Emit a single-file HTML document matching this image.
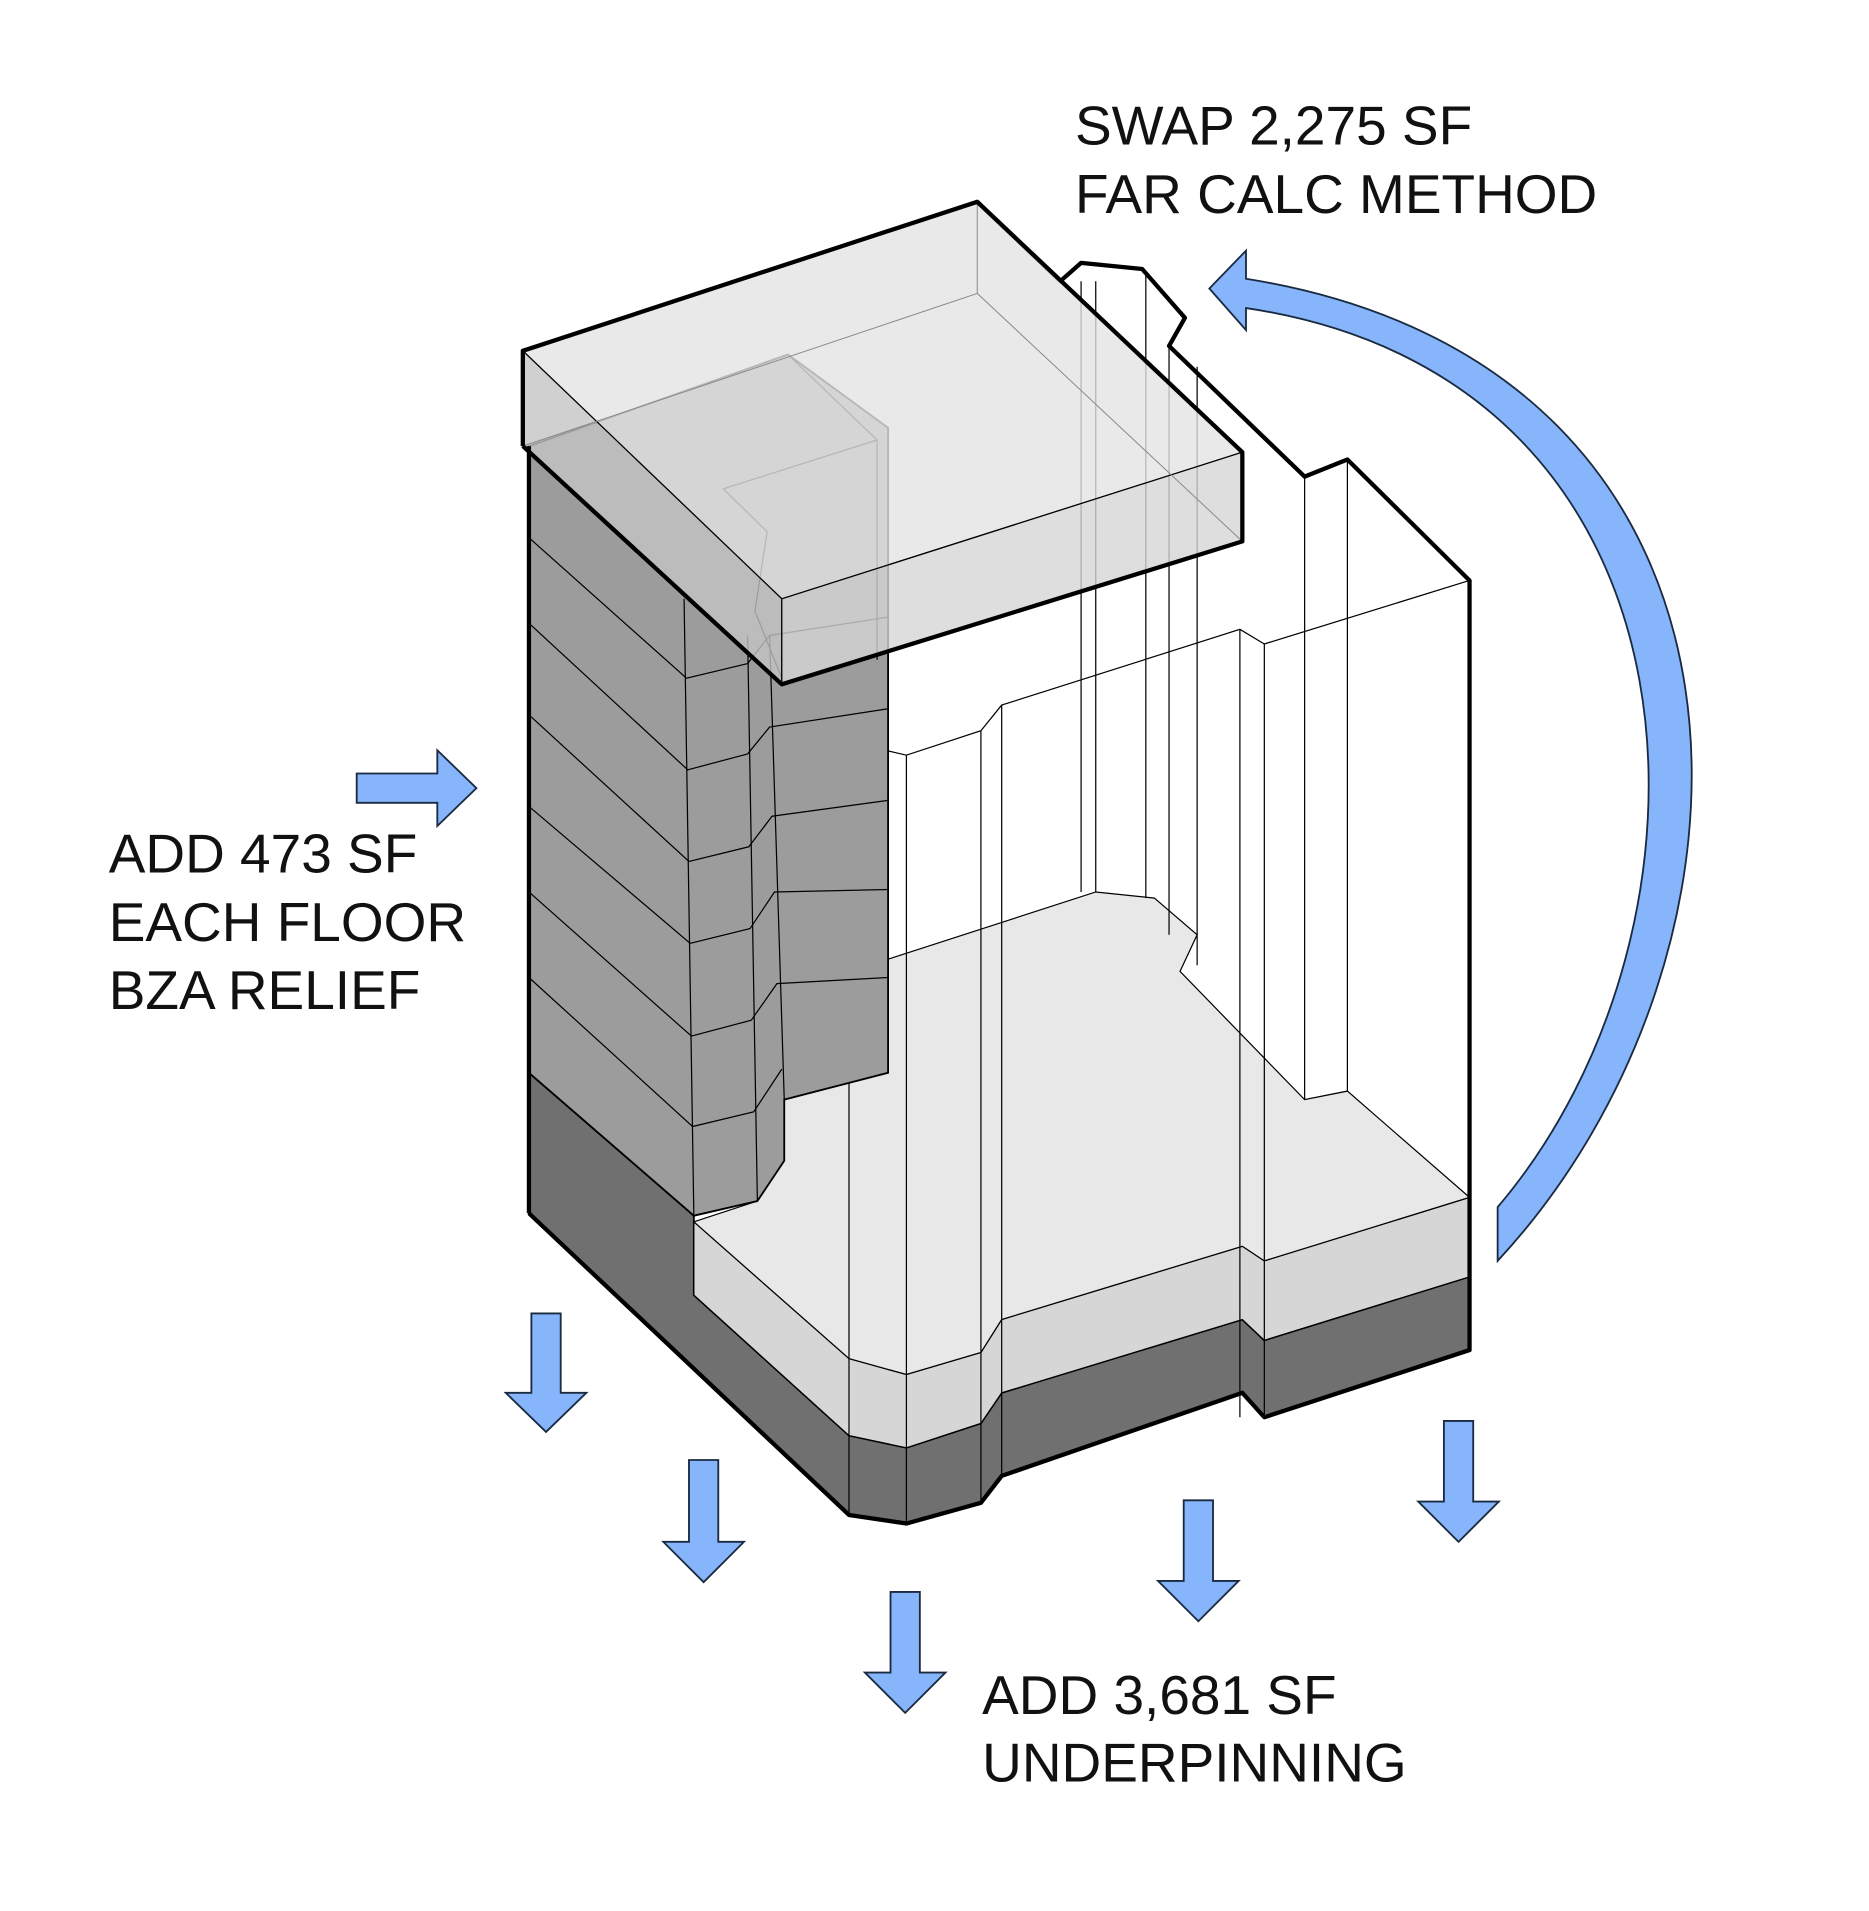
<!DOCTYPE html>
<html><head><meta charset="utf-8"><style>
html,body{margin:0;padding:0;background:#fff}
svg{display:block}
text{font-family:"Liberation Sans",Arial,sans-serif;font-size:45px;fill:#111}
</style></head><body>
<svg width="1869" height="1911" viewBox="0 0 1530 1564" xmlns="http://www.w3.org/2000/svg">
<rect width="1530" height="1564" fill="#fff"/>
<path d="M800,165 L868,230 L885,215 L935,220 L970,260 L957,283 L1068,390 L1103,376 L1203,475 L1203,1105 L1035,1160 L1017,1140 L820,1208 L803,1230 L742,1247 L695,1240 L433,993 L433,287 Z" fill="#fff" stroke="none"/>
<path d="M433,878 L568,995 L568,1060 L695,1175 L742,1185 L803,1165 L820,1140 L1017,1080 L1035,1097 L1203,1045 L1203,1105 L1035,1160 L1017,1140 L820,1208 L803,1230 L742,1247 L695,1240 L433,993 Z" fill="#707070" stroke="#000" stroke-width="1.5"/>
<path d="M568,1000 L695,1112 L742,1125 L803,1107 L820,1080 L1017,1020 L1035,1032 L1203,980 L1203,1045 L1035,1097 L1017,1080 L820,1140 L803,1165 L742,1185 L695,1175 L568,1060 Z" fill="#d6d6d6" stroke="#000" stroke-width="1"/>
<path d="M568,1000 L620,983 L642,950 L642,900 L727,878 L727,785 L897,730 L945,735 L980,765 L966,795 L1068,900 L1103,893 L1203,980 L1035,1032 L1017,1020 L820,1080 L803,1107 L742,1125 L695,1112 Z" fill="#e8e8e8" stroke="#000" stroke-width="1"/>
<g stroke="#000" stroke-width="1" fill="none">
<path d="M695,607 L742,618 L803,598 L820,577 L1015,515 L1035,527 L1203,475"/>
<path d="M695,607 V1240 M742,618 V1247 M803,598 V1230 M820,577 V1208 M1015,515 V1160 M1035,527 V1160"/>
<path d="M885,230 V730 M897,230 V730 M938,225 V735 M957,283 V765 M980,300 V790 M1068,390 V900 M1103,376 V893"/>
</g>
<path d="M800,165 L868,230 L885,215 L935,220 L970,260 L957,283 L1068,390 L1103,376 L1203,475 L1203,1105 L1035,1160 L1017,1140 L820,1208 L803,1230 L742,1247 L695,1240 L433,993" fill="none" stroke="#000" stroke-width="3.5" stroke-linejoin="round"/>
<path d="M433,365 L433,878 L568,995 L620,983 L642,950 L642,900 L727,878 L727,350 L645,290 Z" fill="#9c9c9c" stroke="#000" stroke-width="1.5"/>
<g stroke="#000" stroke-width="1" fill="none">
<path d="M433,440 L562,555 L612,543 L630,520 L727,505"/>
<path d="M433,510 L563,630 L612,617 L630,595 L727,580"/>
<path d="M433,585 L564,705 L613,693 L632,668 L727,655"/>
<path d="M433,660 L565,772 L614,760 L634,730 L727,728"/>
<path d="M433,730 L566,848 L615,835 L636,805 L727,800"/>
<path d="M433,800 L567,922 L617,910 L640,875"/>
<path d="M560,490 L568,995 M612,520 L620,983 M630,520 L642,900"/>
<path d="M645,290 L718,360 L718,540 M592,400 L718,360 M592,400 L628,435 L618,500 L640,555"/>
</g>
<path d="M428,287 L800,165 L1017,370 L640,490 Z" fill="#e4e4e4" fill-opacity="0.8" stroke="#000" stroke-width="1"/>
<path d="M428,287 L640,490 L640,560 L428,365 Z" fill="#c4c4c4" fill-opacity="0.8" stroke="#000" stroke-width="1"/>
<path d="M640,490 L1017,370 L1017,443 L640,560 Z" fill="#d6d6d6" fill-opacity="0.8" stroke="#000" stroke-width="1"/>
<path d="M800,165 V240 L1017,443 M800,240 L428,365" stroke="#888" stroke-width="0.8" fill="none"/>
<path d="M428,365 L428,287 L800,165 L1017,370 L1017,443 L640,560 L428,365" fill="none" stroke="#000" stroke-width="3.5" stroke-linejoin="round"/>
<path d="M433,365 L433,993" stroke="#000" stroke-width="3.5"/>
<g fill="#86b5fb" stroke="#1a2a40" stroke-width="1.5">
<path d="M292,633 H358 V614 L390,645 L358,676 V657 H292 Z"/>
<path d="M435,1075 H459 V1140 H480 L447,1172 L414,1140 H435 Z"/>
<path d="M564,1195 H588 V1262 H609 L576,1295 L543,1262 H564 Z"/>
<path d="M729,1303 H753 V1369 H774 L741,1402 L708,1369 H729 Z"/>
<path d="M969,1228 H993 V1294 H1014 L981,1327 L948,1294 H969 Z"/>
<path d="M1182,1163 H1206 V1229 H1227 L1194,1262 L1161,1229 H1182 Z"/>
<path d="M1226,1032 C1460,780 1470,300 1020,228 L1020,205 L990,236 L1020,270 L1020,252 C1410,310 1420,760 1226,988 Z"/>
</g>
<text x="880" y="118">SWAP 2,275 SF</text>
<text x="880" y="174">FAR CALC METHOD</text>
<text x="89" y="714">ADD 473 SF</text>
<text x="89" y="770">EACH FLOOR</text>
<text x="89" y="826">BZA RELIEF</text>
<text x="804" y="1403">ADD 3,681 SF</text>
<text x="804" y="1458">UNDERPINNING</text>
</svg>
</body></html>
